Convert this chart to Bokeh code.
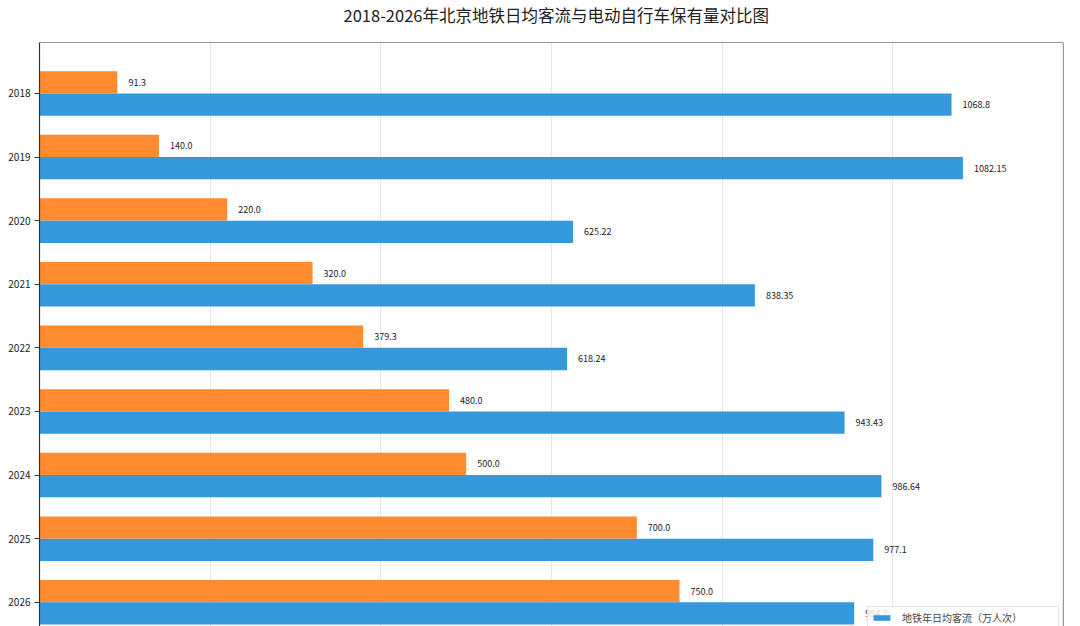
from bokeh.plotting import figure
from bokeh.layouts import column
from bokeh.models import Range1d, FixedTicker, Span, Legend, LegendItem, ColumnDataSource
from bokeh.transform import dodge
from bokeh.core.properties import value
from bokeh.embed import file_html
from bokeh.resources import INLINE

# ---- data ----
years = ["2018", "2019", "2020", "2021", "2022", "2023", "2024", "2025", "2026"]
subway_flow = [1068.8, 1082.15, 625.22, 838.35, 618.24, 943.43, 986.64, 977.1, 954.7]
ebike_count = [91.3, 140.0, 220.0, 320.0, 379.3, 480.0, 500.0, 700.0, 750.0]
x_grid_ticks = [200, 400, 600, 800, 1000]
subway_label = "地铁年日均客流（万人次）"
title_text = "2018-2026年北京地铁日均客流与电动自行车保有量对比图"

FONT = "Noto Sans CJK SC"
BLUE = "#3498db"
ORANGE = "#ff8b30"

W = 1080
TITLE_H = 41
MAIN_H = 585

# ---- title strip (its own small figure, so the text is never clipped) ----
t = figure(width=W, height=TITLE_H, output_backend="svg", toolbar_location=None,
           x_range=Range1d(0, W), y_range=Range1d(0, TITLE_H),
           x_axis_location=None, y_axis_location=None,
           min_border_left=0, min_border_right=0, min_border_top=0, min_border_bottom=0)
t.outline_line_color = None
t.xgrid.visible = False
t.ygrid.visible = False
t.background_fill_color = "white"
t.border_fill_color = "white"
t.text(x=[545], y=[27], text=[title_text], text_align="center", text_baseline="middle",
       text_font=value(FONT), text_font_size="16.5px", text_color="#222222")

# ---- main chart ----
idx = list(range(len(years)))
src = ColumnDataSource(dict(
    idx=idx,
    subway=subway_flow,
    ebike=ebike_count,
    subway_lbl=[str(v) for v in subway_flow],
    ebike_lbl=[f"{v:.1f}" for v in ebike_count],
))

p = figure(width=W, height=MAIN_H, output_backend="svg", toolbar_location=None,
           x_range=Range1d(0, 1200), y_range=Range1d(start=8.38, end=-0.80),
           min_border_left=39, min_border_right=17, min_border_top=1, min_border_bottom=0)

p.outline_line_color = None
p.background_fill_color = "white"
p.border_fill_color = "white"

p.xaxis.visible = False
p.xgrid.ticker = FixedTicker(ticks=x_grid_ticks)
p.xgrid.grid_line_color = "#e6e6e6"
p.xgrid.grid_line_width = 1
p.ygrid.visible = False

p.yaxis.ticker = FixedTicker(ticks=idx)
p.yaxis.major_label_overrides = {i: y for i, y in zip(idx, years)}
p.yaxis.minor_tick_line_color = None
p.yaxis.major_tick_out = 5
p.yaxis.major_tick_in = 0
p.yaxis.major_label_standoff = 4
p.yaxis.axis_line_color = "#333333"
p.yaxis.axis_line_width = 1.2
p.yaxis.major_tick_line_color = "#333333"
p.yaxis.major_label_text_font = FONT
p.yaxis.major_label_text_font_size = "10px"
p.yaxis.major_label_text_color = "#222222"

r_orange = p.hbar(y=dodge("idx", -0.175), left=0, right="ebike", height=0.35,
                  source=src, fill_color=ORANGE, line_color=None)
r_blue = p.hbar(y=dodge("idx", 0.175), left=0, right="subway", height=0.35,
                source=src, fill_color=BLUE, line_color=None)

p.text(x="ebike", y=dodge("idx", -0.175), text="ebike_lbl", source=src,
       x_offset=11, text_baseline="middle", text_align="left",
       text_font=value(FONT), text_font_size="9px", text_color="#222222")
p.text(x="subway", y=dodge("idx", 0.175), text="subway_lbl", source=src,
       x_offset=11, text_baseline="middle", text_align="left",
       text_font=value(FONT), text_font_size="9px", text_color="#222222")

# spines (top, right)
p.add_layout(Span(location=1200, dimension="height", line_color="#333333", line_width=1.2))
p.add_layout(Span(location=-0.80, dimension="width", line_color="#333333", line_width=1.2))

leg = Legend(items=[LegendItem(label=subway_label, renderers=[r_blue])],
             location=(828, -3), padding=3, spacing=0, margin=0,
             glyph_width=21, glyph_height=7, label_standoff=10,
             label_height=10, label_width=153,
             label_text_font=FONT, label_text_font_size="10px",
             border_line_color="#cccccc", background_fill_alpha=0.8)
p.add_layout(leg)

layout = column(t, p, spacing=0)
open("out.html", "w").write(file_html(layout, INLINE))
